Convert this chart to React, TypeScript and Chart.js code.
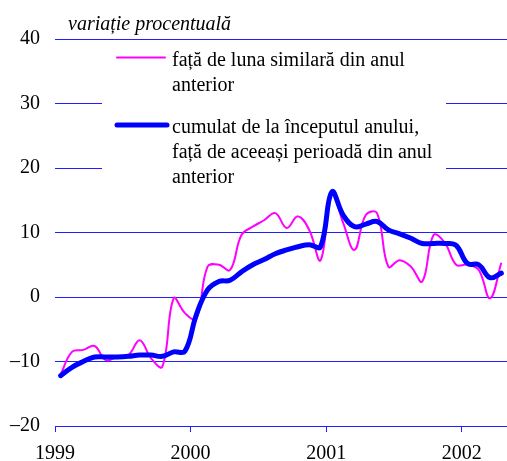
import React, { useEffect, useRef } from "react";
import { Chart, registerables } from "chart.js";

Chart.register(...registerables);

// ---- data (monthly, Jan 1999 .. Apr 2002) ----
const yearLabels = ["1999", "2000", "2001", "2002"];
const yearTickPositions = [0, 12, 24, 36];
const yTickValues = [-20, -10, 0, 10, 20, 30, 40];
const yTickLabels = ["–20", "–10", "0", "10", "20", "30", "40"];

const monthlyYoY = [
  -12.0, -8.5, -8.2, -7.6, -9.8, -9.3, -9.0, -6.7, -9.5, -10.8, -0.2, -2.5,
  -3.4, 4.7, 5.0, 4.2, 9.6, 10.9, 11.9, 13.0, 10.7, 12.5, 10.4, 5.7,
  16.2, 11.5, 7.3, 12.7, 13.0, 4.7, 5.7, 4.7, 2.4, 9.6, 8.4, 5.0,
  5.0, 4.2, -0.2, 5.3,
];
const cumulativeYoY = [
  -12.2, -10.9, -10.0, -9.3, -9.3, -9.3, -9.2, -9.0, -9.0, -9.2, -8.5, -8.4,
  -2.8, 1.1, 2.4, 2.6, 3.9, 5.0, 5.8, 6.7, 7.3, 7.8, 8.1, 7.8,
  16.3, 12.7, 10.9, 11.3, 11.7, 10.4, 9.8, 9.1, 8.3, 8.3, 8.3, 8.0,
  5.2, 5.0, 3.0, 3.7,
];

const titleText = "variație procentuală";
const legendMonthly = ["față de luna similară din anul", "anterior"];
const legendCumulative = [
  "cumulat de la începutul anului,",
  "față de aceeași perioadă din anul",
  "anterior",
];

const FONT_FAMILY = "'Liberation Serif', 'Times New Roman', serif";
const PINK = "#ff00ff";
const BLUE = "#0000ff";
const GRID = "#1f1fff";

const overlayPlugin = {
  id: "overlay",
  beforeDatasetsDraw(chart: any) {
    const { ctx } = chart;
    ctx.save();
    // white legend box covering gridlines
    ctx.fillStyle = "#ffffff";
    ctx.fillRect(102, 44, 344, 145);

    // title
    ctx.fillStyle = "#000";
    ctx.font = `italic 20px ${FONT_FAMILY}`;
    ctx.textBaseline = "alphabetic";
    ctx.textAlign = "left";
    ctx.fillText(titleText, 68, 30);

    // legend
    ctx.font = `20px ${FONT_FAMILY}`;
    ctx.lineCap = "round";
    ctx.strokeStyle = PINK;
    ctx.lineWidth = 2;
    ctx.beginPath();
    ctx.moveTo(117, 57.5);
    ctx.lineTo(165, 57.5);
    ctx.stroke();
    legendMonthly.forEach((t, i) => ctx.fillText(t, 172, 66 + i * 24.5));

    ctx.strokeStyle = BLUE;
    ctx.lineWidth = 5;
    ctx.beginPath();
    ctx.moveTo(117, 125);
    ctx.lineTo(167, 125);
    ctx.stroke();
    legendCumulative.forEach((t, i) => ctx.fillText(t, 172, 133 + i * 25));
    ctx.restore();
  },
};

export default function App() {
  const ref = useRef<HTMLCanvasElement>(null);
  useEffect(() => {
    const canvas = ref.current!;
    const font = { family: FONT_FAMILY, size: 20 };
    const chart = new Chart(canvas, {
      type: "line",
      data: {
        datasets: [
          {
            label: legendCumulative.join(" "),
            data: cumulativeYoY.map((v, i) => ({ x: i + 0.5, y: v })),
            borderColor: BLUE,
            backgroundColor: BLUE,
            borderWidth: 5,
            pointRadius: 0,
            tension: 0.4,
            borderCapStyle: "round",
            borderJoinStyle: "round",
          },
          {
            label: legendMonthly.join(" "),
            data: monthlyYoY.map((v, i) => ({ x: i + 0.5, y: v })),
            borderColor: PINK,
            backgroundColor: PINK,
            borderWidth: 2,
            pointRadius: 0,
            tension: 0.4,
          },
        ],
      },
      options: {
        responsive: false,
        animation: false,
        layout: { padding: { top: 39, right: 0, left: 0, bottom: 0 } },
        plugins: { legend: { display: false }, tooltip: { enabled: false } },
        scales: {
          x: {
            type: "linear",
            min: 0,
            max: 40,
            afterBuildTicks: (s: any) => {
              s.ticks = yearTickPositions.map((v) => ({ value: v }));
            },
            afterFit: (s: any) => {
              s.height = 35;
            },
            ticks: {
              autoSkip: false,
              maxRotation: 0,
              padding: 10,
              color: "#000",
              font,
              callback: (v: any) => {
                const k = yearTickPositions.indexOf(Number(v));
                return k >= 0 ? yearLabels[k] : "";
              },
            },
            grid: {
              drawOnChartArea: false,
              drawTicks: true,
              tickLength: 6,
              color: GRID,
            },
            border: { color: GRID, width: 1 },
          },
          y: {
            type: "linear",
            min: -20,
            max: 40,
            afterBuildTicks: (s: any) => {
              s.ticks = yTickValues.map((v) => ({ value: v }));
            },
            afterFit: (s: any) => {
              s.width = 55;
            },
            ticks: {
              padding: 15,
              color: "#000",
              font,
              callback: (v: any) => {
                const k = yTickValues.indexOf(Number(v));
                return k >= 0 ? yTickLabels[k] : "";
              },
            },
            grid: { color: GRID, drawTicks: false, lineWidth: 1 },
            border: { display: false },
          },
        },
      },
      plugins: [overlayPlugin],
    } as any);
    return () => chart.destroy();
  }, []);
  return (
    <div style={{ position: "fixed", left: 0, top: 0, width: 507, height: 461, background: "#fff" }}>
      <canvas ref={ref} width={507} height={461} style={{ width: 507, height: 461, display: "block" }} />
    </div>
  );
}
